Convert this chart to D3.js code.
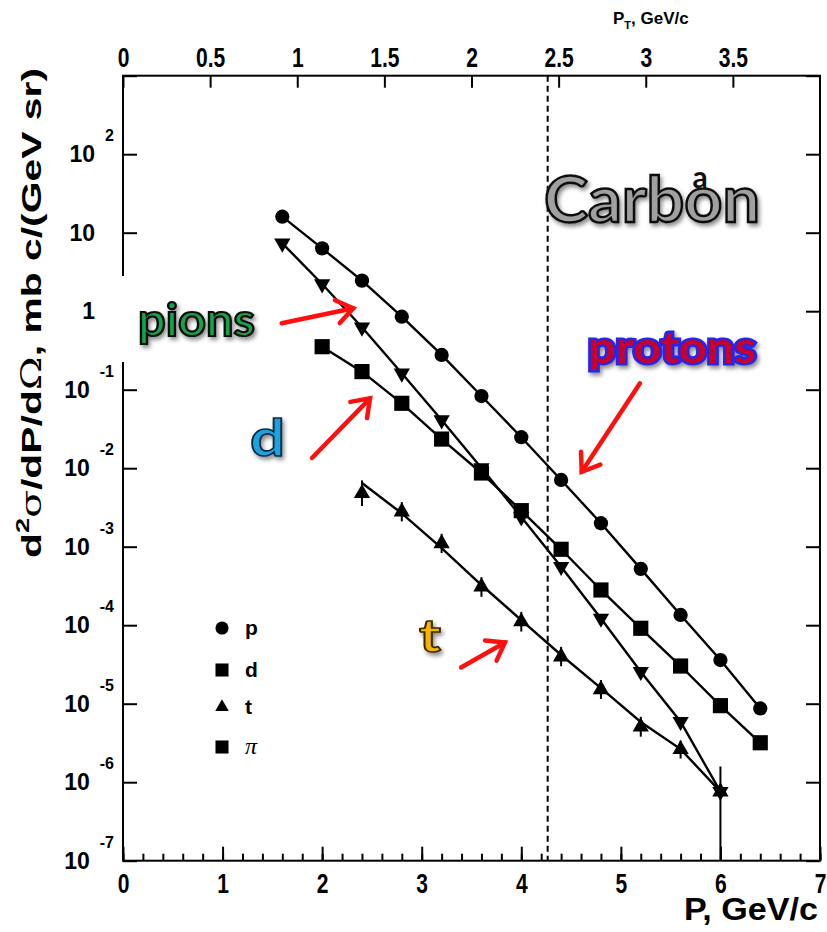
<!DOCTYPE html>
<html><head><meta charset="utf-8">
<script src="https://cdn.jsdelivr.net/npm/d3@7"></script>
<style>
body{margin:0;background:#fff}
svg{display:block}
.tick text{font-family:"Liberation Sans",Arial,sans-serif;font-weight:bold;font-size:27px;fill:#000}
</style>
</head><body>
<svg id="chart" width="827" height="932"></svg>
<script>
// ---------------- data ----------------
const protonP   = [1.6,2.0,2.4,2.8,3.2,3.6,4.0,4.4,4.8,5.2,5.6,6.0,6.4];
const protonXS  = [16.0,6.32,2.45,0.851,0.277,0.0831,0.0248,0.00708,0.00199,5.22e-4,1.35e-4,3.6e-5,8.7e-6];

const deuteronP  = [2.0,2.4,2.8,3.2,3.6,4.0,4.4,4.8,5.2,5.6,6.0,6.4];
const deuteronXS = [0.353,0.170,0.0671,0.0235,0.00869,0.00288,9.27e-4,2.81e-4,9.14e-5,3.02e-5,9.44e-6,3.18e-6];

const pionP  = [1.6,2.0,2.4,2.8,3.2,3.6,4.0,4.4,4.8,5.2,5.6,6.0];
const pionXS = [7.33,2.22,0.624,0.162,0.0411,0.01005,0.00239,5.56e-4,1.22e-4,2.56e-5,5.9e-6,7.57e-7];

const tritonP      = [2.4,2.8,3.2,3.6,4.0,4.4,4.8,5.2,5.6,6.0];
const tritonXS     = [0.00479,0.00279,0.00110,3.09e-4,1.11e-4,3.97e-5,1.52e-5,5.09e-6,2.62e-6,7.57e-7];
const tritonErrHi  = [0.0070,0.0037,0.00146,4.1e-4,1.48e-4,5.3e-5,2.0e-5,6.8e-6,3.4e-6,1.58e-6];
const tritonErrLo  = [0.0033,0.0021,8.3e-4,2.3e-4,8.3e-5,3.0e-5,1.15e-5,3.8e-6,2.0e-6,1e-8];
const tritonFitXS  = [0.00648,0.00266,9.62e-4,3.25e-4,1.16e-4,4.17e-5,1.58e-5,5.85e-6,2.64e-6,7.57e-7];

const xTicksMajor = [0,1,2,3,4,5,6,7];
const xTicksMinor = d3.range(0,7.001,0.2).map(v=>+v.toFixed(1));
const ptTicks     = [0,0.5,1,1.5,2,2.5,3,3.5];
const ptTickLabels= ["0","0.5","1","1.5","2","2.5","3","3.5"];
const yExponents  = [-7,-6,-5,-4,-3,-2,-1,0,1,2];
const cutP = 4.265;

const legendLabels = ["p","d","t","\u03C0"];
const legendShapes = ["circle","square","triangle","square"];

// annotation arrows in data coordinates: [P_from, log10_from, P_to, log10_to]
const arrowPions    = [1.594,-0.154,2.313,0.037];
const arrowD        = [1.898,-1.870,2.481,-1.110];
const arrowT        = [3.395,-4.538,3.836,-4.220];
const arrowProtons  = [5.192,-0.918,4.607,-2.045];

// ---------------- layout ----------------
const svg = d3.select("#chart");
const F = {left:123,right:820,top:75.7,bottom:860.7};
const x  = d3.scaleLinear().domain([0,7]).range([F.left,F.right]);
const xT = d3.scaleLinear().domain([0,4.0]).range([F.left,F.right]);
const y  = d3.scaleLog().domain([1e-7,1e3]).range([F.bottom,F.top]);

const defs = svg.append("defs");
const sh = defs.append("filter").attr("id","shadow").attr("x","-20%").attr("y","-20%").attr("width","140%").attr("height","150%");
sh.append("feDropShadow").attr("dx",2).attr("dy",3).attr("stdDeviation",2).attr("flood-color","#000").attr("flood-opacity",0.45);
defs.append("clipPath").attr("id","clip").append("rect")
  .attr("x",F.left).attr("y",F.top).attr("width",F.right-F.left).attr("height",F.bottom-F.top);

// axes
const yMinor = y.ticks().filter(v=>Math.abs(Math.log10(v)-Math.round(Math.log10(v)))>1e-6);
const yMajor = yExponents.map(k=>Math.pow(10,k)).concat([1e3]);

function styleAxis(g){
  g.select(".domain").remove();
  g.selectAll(".tick line").attr("stroke","#000").attr("stroke-width",2);
  g.selectAll(".tick text").attr("transform","scale(0.78,1)");
}
svg.append("g").attr("transform",`translate(0,${F.bottom})`)
  .call(d3.axisBottom(x).tickValues(xTicksMinor).tickSize(-7).tickFormat("")).call(styleAxis);
svg.append("g").attr("transform",`translate(0,${F.bottom})`)
  .call(d3.axisBottom(x).tickValues(xTicksMajor).tickSize(-14).tickPadding(13).tickFormat(d3.format("d"))).call(styleAxis);
svg.append("g").attr("transform",`translate(0,${F.top})`)
  .call(d3.axisTop(xT).tickValues(ptTicks).tickSize(-12).tickPadding(9).tickFormat((d,i)=>ptTickLabels[i])).call(styleAxis);
svg.append("g").attr("transform",`translate(${F.left},0)`)
  .call(d3.axisLeft(y).tickValues(yMinor).tickSize(-7).tickFormat("")).call(styleAxis);
svg.append("g").attr("transform",`translate(${F.left},0)`)
  .call(d3.axisLeft(y).tickValues(yMajor).tickSize(-14).tickFormat("")).call(styleAxis);
svg.append("g").attr("transform",`translate(${F.right},0)`)
  .call(d3.axisRight(y).tickValues(yMinor).tickSize(-7).tickFormat("")).call(styleAxis);
svg.append("g").attr("transform",`translate(${F.right},0)`)
  .call(d3.axisRight(y).tickValues(yMajor).tickSize(-14).tickFormat("")).call(styleAxis);

svg.append("rect").attr("x",F.left).attr("y",F.top).attr("width",F.right-F.left).attr("height",F.bottom-F.top)
  .attr("fill","none").attr("stroke","#000").attr("stroke-width",2);

// y tick labels
const yl = svg.append("g").attr("font-family","'Liberation Sans',Arial,sans-serif").attr("font-weight","bold").attr("fill","#000");
yExponents.forEach(k=>{
  const yy = y(Math.pow(10,k));
  if(k===0 || k===1){
    yl.append("text").attr("x",95).attr("y",yy+8).attr("text-anchor","end").attr("font-size",23).text(k===0?"1":"10");
  } else {
    const e = yl.append("text").attr("x",114).attr("y",yy-13).attr("text-anchor","end").attr("font-size",16).text(String(k));
    const ew = e.node().getComputedTextLength();
    yl.append("text").attr("x",114-ew-10).attr("y",yy+8).attr("text-anchor","end").attr("font-size",23).text("10");
  }
});

// cut line
svg.append("line").attr("x1",x(cutP)).attr("x2",x(cutP)).attr("y1",F.top).attr("y2",F.bottom)
  .attr("stroke","#000").attr("stroke-width",2).attr("stroke-dasharray","6,4");

// series
const plot = svg.append("g").attr("clip-path","url(#clip)");
const line = d3.line().x(d=>x(d[0])).y(d=>y(d[1]));
function drawLine(P,V){
  plot.append("path").datum(d3.zip(P,V)).attr("d",line).attr("fill","none").attr("stroke","#000").attr("stroke-width",2.4);
}
drawLine(protonP,protonXS);
drawLine(deuteronP,deuteronXS);
drawLine(pionP,pionXS);
drawLine(tritonP,tritonFitXS);

// error bars (tritons)
plot.selectAll(".eb").data(d3.range(tritonP.length)).join("line")
  .attr("x1",i=>x(tritonP[i])).attr("x2",i=>x(tritonP[i]))
  .attr("y1",i=>y(tritonErrHi[i])).attr("y2",i=>Math.min(F.bottom,y(tritonErrLo[i])))
  .attr("stroke","#000").attr("stroke-width",2);

const sym = {
  circle: d3.symbol().type(d3.symbolCircle).size(160),
  square: d3.symbol().type(d3.symbolSquare).size(230),
  triangle: d3.symbol().type(d3.symbolTriangle).size(115)
};
function drawPts(P,V,shape,rot){
  plot.selectAll(null).data(d3.zip(P,V)).join("path")
    .attr("d",sym[shape]())
    .attr("transform",d=>`translate(${x(d[0])},${y(d[1])})${rot?" rotate(180)":""}`)
    .attr("fill","#000");
}
drawPts(tritonP,tritonXS,"triangle",false);
drawPts(pionP,pionXS,"triangle",true);
drawPts(deuteronP,deuteronXS,"square",false);
drawPts(protonP,protonXS,"circle",false);

// legend
const lsym = {
  circle: d3.symbol().type(d3.symbolCircle).size(135),
  square: d3.symbol().type(d3.symbolSquare).size(170),
  triangle: d3.symbol().type(d3.symbolTriangle).size(80)
};
const legY = [628,670,707,747];
legendLabels.forEach((lab,i)=>{
  svg.append("path").attr("d",lsym[legendShapes[i]]()).attr("transform",`translate(222,${legY[i]})`).attr("fill","#000");
  const t = svg.append("text").attr("x",245).attr("y",legY[i]+7).text(lab);
  if(i===3) t.attr("font-family","'Liberation Serif','DejaVu Serif',serif").attr("font-style","italic").attr("font-size",24);
  else t.attr("font-family","'Liberation Sans',Arial,sans-serif").attr("font-weight","bold").attr("font-size",21);
});

// axis titles
svg.append("text").attr("x",818).attr("y",920).attr("text-anchor","end")
  .attr("font-family","'Liberation Sans',Arial,sans-serif").attr("font-weight","bold").attr("font-size",32)
  .attr("textLength",134).attr("lengthAdjust","spacingAndGlyphs")
  .text("P, GeV/c");
const tt = svg.append("text").attr("x",613).attr("y",24)
  .attr("font-family","'Liberation Sans',Arial,sans-serif").attr("font-weight","bold").attr("font-size",17);
tt.append("tspan").text("P");
tt.append("tspan").attr("font-size",11).attr("dy",5).text("T");
tt.append("tspan").attr("dy",-5).text(", GeV/c");

const yt = svg.append("text").attr("transform","translate(41,313) rotate(-90)").attr("text-anchor","middle")
  .attr("font-family","'Liberation Sans',Arial,sans-serif").attr("font-weight","bold").attr("font-size",27)
  .attr("textLength",490).attr("lengthAdjust","spacingAndGlyphs");
yt.append("tspan").text("d");
yt.append("tspan").attr("font-size",18).attr("dy",-12).text("2");
yt.append("tspan").attr("dy",12).attr("font-family","'DejaVu Serif','Liberation Serif',serif").attr("font-weight","normal").text("\u03C3");
yt.append("tspan").text("/dP/d");
yt.append("tspan").attr("font-family","'DejaVu Serif','Liberation Serif',serif").attr("font-weight","normal").text("\u03A9");
yt.append("tspan").text(", mb c/(GeV sr)");

// white text box behind "pions" (covers axis)
svg.append("rect").attr("x",112).attr("y",276).attr("width",152).attr("height",86).attr("fill","#fff");

// annotations
const annFont = "Lato,'Open Sans',sans-serif";
function ann(txt,xx,yy,size,len,fill,stroke,sw,shadow,outer){
  const t = svg.append("text").attr("x",xx).attr("y",yy).attr("font-family",annFont).attr("font-weight",700)
    .attr("font-size",size).attr("fill",fill).attr("stroke",stroke).attr("stroke-width",sw)
    .attr("textLength",len).attr("lengthAdjust","spacingAndGlyphs").text(txt);
  if(outer) t.attr("paint-order","stroke");
  if(shadow) t.attr("filter","url(#shadow)");
  return t;
}
svg.append("text").attr("x",700).attr("y",188).attr("text-anchor","middle").attr("font-family",annFont)
  .attr("font-weight",700).attr("font-size",30).attr("fill","#111").text("a");
ann("Carbon",544,222,64,216,"#a0a0a0","#111",2.4,true,false);
ann("pions",138,336,46,117,"#12a34a","#0a0a0a",2.2,true,false);
ann("protons",588,363,43,168,"#c8002a","#2626e6",5,true,true);
ann("d",250,456,52,35,"#1fa3df","#0b2a40",1.6,true,false);
ann("t",419,652,46,22,"#f6b400","#3a2a00",1.6,true,false);

// red arrows
function arrow(a){
  const x1=x(a[0]), y1=y(Math.pow(10,a[1])), x2=x(a[2]), y2=y(Math.pow(10,a[3]));
  const ang = Math.atan2(y2-y1,x2-x1), L=20, w=0.62;
  const g = svg.append("g").attr("stroke","#ff1010").attr("stroke-width",4.5).attr("stroke-linecap","round").attr("fill","none");
  g.append("line").attr("x1",x1).attr("y1",y1).attr("x2",x2).attr("y2",y2);
  g.append("path").attr("stroke-linejoin","miter").attr("d",
    `M${x2-L*Math.cos(ang-w)},${y2-L*Math.sin(ang-w)}L${x2},${y2}L${x2-L*Math.cos(ang+w)},${y2-L*Math.sin(ang+w)}`);
}
[arrowPions,arrowD,arrowT,arrowProtons].forEach(arrow);
</script>
</body></html>
